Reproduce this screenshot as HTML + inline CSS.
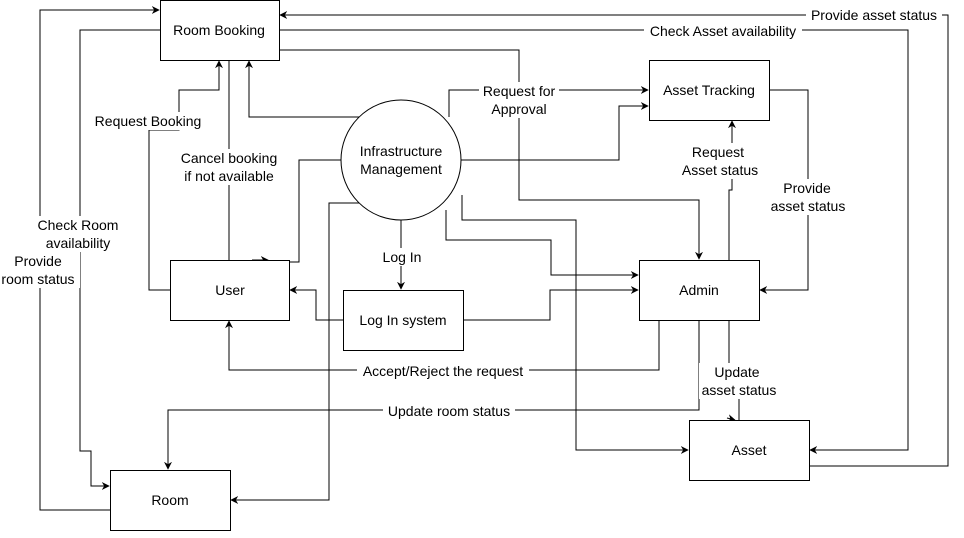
<!DOCTYPE html>
<html><head><meta charset="utf-8"><style>
html,body{margin:0;padding:0;background:#fff;}
svg{display:block;font-family:"Liberation Sans",sans-serif;font-size:14px;}
</style></head><body>
<svg width="964" height="538" viewBox="0 0 964 538" xmlns="http://www.w3.org/2000/svg">
<defs>
<marker id="a" viewBox="0 0 10 10" refX="9" refY="5" markerWidth="8" markerHeight="8" orient="auto" markerUnits="userSpaceOnUse"><path d="M0,0 L10,5 L0,10 L3,5 z" fill="#000"/></marker>
</defs>
<g fill="none" stroke="#000" stroke-width="1">
<!-- Provide room status -->
<polyline points="110,510 40,510 40,10 159,10" marker-end="url(#a)"/>
<!-- Check Room availability -->
<polyline points="160,30 80,30 80,451 91,451 91,486 109,486" marker-end="url(#a)"/>
<!-- Request Booking -->
<polyline points="170,290 149,290 149,130 179,130 179,90 219,90 219,61" marker-end="url(#a)"/>
<!-- Cancel booking -->
<polyline points="229,60 229,260"/>
<!-- circle -> user -->
<polyline points="343,160 299,160 299,262 289,262"/>
<polyline points="252,260 268,260" marker-end="url(#a)"/>
<!-- circle -> room booking -->
<polyline points="361,117 249,117 249,61" marker-end="url(#a)"/>
<!-- circle -> room -->
<polyline points="361,203 329,203 329,500 231,500" marker-end="url(#a)"/>
<!-- Provide asset status (top) -->
<polyline points="809,466 948,466 948,15 280,15" marker-end="url(#a)"/>
<!-- Check asset availability -->
<polyline points="279,30 908,30 908,450 810,450" marker-end="url(#a)"/>
<!-- room booking -> admin -->
<polyline points="279,50 519,50 519,200 699,200 699,259" marker-end="url(#a)"/>
<!-- request for approval -->
<polyline points="449,117 449,90 648,90" marker-end="url(#a)"/>
<polyline points="461,160 619,160 619,106 648,106" marker-end="url(#a)"/>
<!-- circle -> asset -->
<polyline points="462,195 462,220 576,220 576,450 688,450" marker-end="url(#a)"/>
<!-- circle -> admin -->
<polyline points="446,210 446,240 551,240 551,275 638,275" marker-end="url(#a)"/>
<!-- Log In -->
<polyline points="401,220 401,289" marker-end="url(#a)"/>
<polyline points="343,320 316,320 316,290 290,290" marker-end="url(#a)"/>
<polyline points="463,320 550,320 550,290 638,290" marker-end="url(#a)"/>
<!-- request asset status -->
<polyline points="729,260 729,190 732,190 732,121" marker-end="url(#a)"/>
<!-- provide asset status right -->
<polyline points="769,90 808,90 808,290 760,290" marker-end="url(#a)"/>
<!-- accept/reject -->
<polyline points="659,320 659,370 229,370 229,321" marker-end="url(#a)"/>
<!-- update room status -->
<polyline points="699,320 699,410 168,410 168,469" marker-end="url(#a)"/>
<!-- update asset status -->
<polyline points="729,320 729,365"/>
<polyline points="739,395 739,420"/>
<polyline points="727,418 735,420" marker-end="url(#a)"/>
</g>
<!-- nodes -->
<g fill="#fff" stroke="#000" stroke-width="1">
<rect x="160.5" y="0.5" width="119" height="60"/>
<rect x="649.5" y="60.5" width="120" height="60"/>
<circle cx="401" cy="160" r="60"/>
<rect x="170.5" y="260.5" width="119" height="60"/>
<rect x="343.5" y="290.5" width="120" height="60"/>
<rect x="639.5" y="260.5" width="120" height="60"/>
<rect x="689.5" y="420.5" width="120" height="60"/>
<rect x="110.5" y="470.5" width="120" height="60"/>
</g>
<g text-anchor="middle" fill="#000">
<text x="219" y="35">Room Booking</text>
<text x="709" y="95">Asset Tracking</text>
<text x="401" y="156">Infrastructure</text>
<text x="401" y="174">Management</text>
<text x="230" y="295">User</text>
<text x="403" y="325">Log In system</text>
<text x="699" y="295">Admin</text>
<text x="749" y="455">Asset</text>
<text x="170" y="505">Room</text>
</g>
<!-- labels -->
<g fill="#fff">
<rect x="91" y="112" width="115" height="18"/>
<rect x="177" y="149" width="104" height="36"/>
<rect x="33" y="216" width="90" height="36"/>
<rect x="0" y="252" width="80" height="36"/>
<rect x="479" y="82" width="80" height="36"/>
<rect x="806" y="6" width="136" height="18"/>
<rect x="644" y="22" width="158" height="18"/>
<rect x="680" y="143" width="82" height="36"/>
<rect x="767" y="179" width="82" height="36"/>
<rect x="380" y="248" width="44" height="18"/>
<rect x="357" y="362" width="172" height="18"/>
<rect x="383" y="402" width="132" height="18"/>
<rect x="699" y="363" width="80" height="36"/>
</g>
<g text-anchor="middle" fill="#000">
<text x="148" y="126">Request Booking</text>
<text x="229" y="163">Cancel booking</text>
<text x="229" y="181">if not available</text>
<text x="78" y="230">Check Room</text>
<text x="78" y="248">availability</text>
<text x="38" y="266">Provide</text>
<text x="38" y="284">room status</text>
<text x="519" y="96">Request for</text>
<text x="519" y="114">Approval</text>
<text x="874" y="20">Provide asset status</text>
<text x="723" y="36">Check Asset availability</text>
<text x="718" y="157">Request</text>
<text x="720" y="175">Asset status</text>
<text x="807" y="193">Provide</text>
<text x="808" y="211">asset status</text>
<text x="402" y="262">Log In</text>
<text x="443" y="376">Accept/Reject the request</text>
<text x="449" y="416">Update room status</text>
<text x="737" y="377">Update</text>
<text x="739" y="395">asset status</text>
</g>
</svg>
</body></html>
